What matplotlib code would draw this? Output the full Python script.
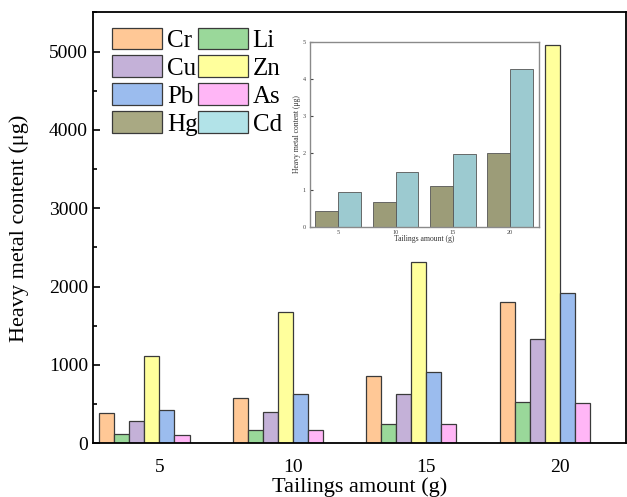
import matplotlib
matplotlib.use("Agg")
import matplotlib.pyplot as plt
import numpy as np
from matplotlib.ticker import MultipleLocator

plt.rcParams['font.family'] = ['Liberation Serif', 'DejaVu Serif']

amounts = ['5', '10', '15', '20']
metals = ['Cr', 'Li', 'Cu', 'Zn', 'Pb', 'As', 'Hg', 'Cd']
values = {
    'Cr': [390, 575, 860, 1800],
    'Li': [115, 170, 250, 530],
    'Cu': [290, 400, 630, 1330],
    'Zn': [1120, 1670, 2310, 5080],
    'Pb': [420, 625, 910, 1920],
    'As': [110, 165, 245, 510],
    'Hg': [0.44, 0.67, 1.12, 2.01],
    'Cd': [0.94, 1.50, 1.98, 4.27],
}
colors = {
    'Cr': '#ffc896', 'Li': '#9ad89a', 'Cu': '#c4b1d8', 'Zn': '#ffff9c',
    'Pb': '#9bbcee', 'As': '#ffb6f6', 'Hg': '#a9a983', 'Cd': '#b2e3e8',
}

fig = plt.figure(figsize=(6.27, 4.97), dpi=100)
ax = fig.add_axes([0.148, 0.108, 0.851, 0.867])

x = np.arange(len(amounts))
w = 0.9 / len(metals)
bars = {}
for i, m in enumerate(metals):
    bars[m] = ax.bar(x - 0.45 + w / 2 + i * w, values[m], w, color=colors[m],
                     edgecolor='#3a3a3a', linewidth=0.9, label=m)

ax.set_xlim(-0.5, 3.5)
ax.set_ylim(0, 5500)
ax.set_xticks(x)
ax.set_xticklabels(amounts)
ax.yaxis.set_major_locator(MultipleLocator(1000))
ax.yaxis.set_minor_locator(MultipleLocator(500))
ax.tick_params(axis='y', which='both', direction='in', labelsize=14, width=1.2)
ax.tick_params(axis='y', which='major', length=5)
ax.tick_params(axis='y', which='minor', length=3)
ax.tick_params(axis='x', length=0, labelsize=14, pad=11)
for s in ax.spines.values():
    s.set_linewidth(1.3)
ax.set_xlabel('Tailings amount (g)', fontsize=16, labelpad=1)
ax.set_ylabel('Heavy metal content (μg)', fontsize=16, labelpad=14)

order = ['Cr', 'Cu', 'Pb', 'Hg', 'Li', 'Zn', 'As', 'Cd']
ax.legend([bars[m] for m in order], order, ncol=2, frameon=False,
          loc='upper left', bbox_to_anchor=(0.036, 0.965), fontsize=18,
          handlelength=2.0, handleheight=0.95, labelspacing=0.14,
          handletextpad=0.2, columnspacing=0.0, borderpad=0, borderaxespad=0)

# inset for Hg and Cd
axin = fig.add_axes([0.494, 0.543, 0.365, 0.373])
axin.bar(x - 0.2, values['Hg'], 0.4, color='#9c9c78', edgecolor='#555555', linewidth=0.6)
axin.bar(x + 0.2, values['Cd'], 0.4, color='#9ccad0', edgecolor='#555555', linewidth=0.6)
axin.set_xlim(-0.5, 3.5)
axin.set_ylim(0, 5)
axin.set_xticks(x)
axin.set_xticklabels(amounts)
axin.tick_params(axis='x', length=0, labelsize=4.5, pad=2, colors='#444444')
axin.tick_params(axis='y', direction='in', length=2, labelsize=4.5, pad=3, colors='#444444')
for s in axin.spines.values():
    s.set_color('#8a8a8a')
    s.set_linewidth(1.0)
axin.set_xlabel('Tailings amount (g)', fontsize=5.5, labelpad=0, color='#333333')
axin.set_ylabel('Heavy metal content (μg)', fontsize=5.5, labelpad=1, color='#333333')

fig.savefig('out.png', dpi=100)
